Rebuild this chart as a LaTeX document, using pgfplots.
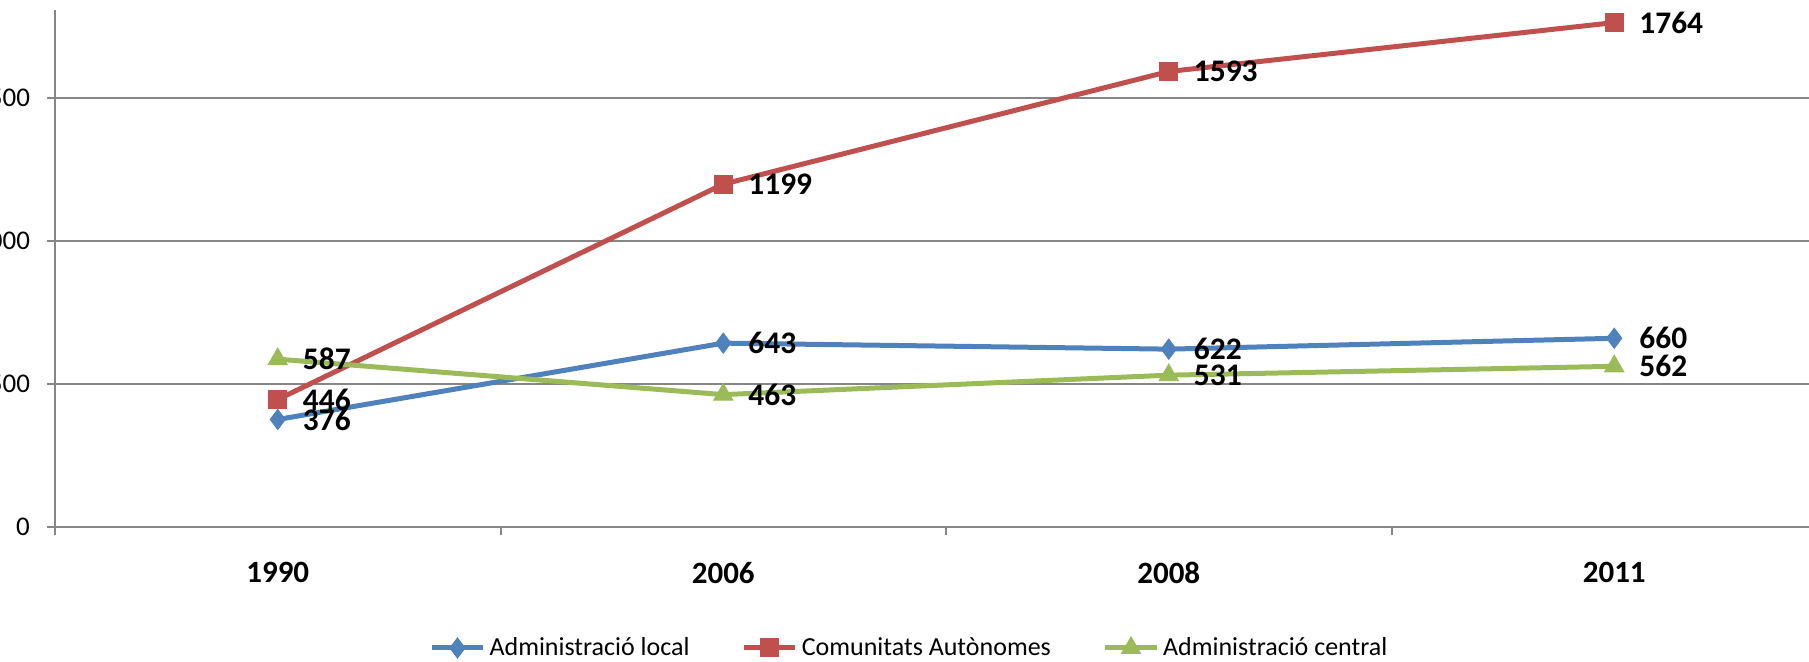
\documentclass[border=0pt]{standalone}
\usepackage{fontspec}
\setmainfont{Carlito}
\usepackage{pgfplots}
\pgfplotsset{compat=1.18}

\definecolor{serblue}{HTML}{4F81BD}
\definecolor{serred}{HTML}{C0504D}
\definecolor{sergreen}{HTML}{9BBB59}
\definecolor{axgray}{HTML}{868686}

\begin{document}
\begin{tikzpicture}
\begin{axis}[
  scale only axis,
  width=891pt, height=258.5pt,
  xmin=0, xmax=4, ymin=0, ymax=1808,
  axis lines*=left,
  axis line style={axgray, line width=1pt},
  every tick/.style={axgray, line width=1pt},
  tick align=outside,
  major tick length=4pt,
  ymajorgrids,
  grid style={axgray, line width=0.8pt},
  ytick={0,500,1000,1500},
  yticklabel style={font=\fontsize{13.5}{15}\selectfont, xshift=-5pt},
  xtick={0,1,2,3,4},
  xticklabels={},
  extra x ticks={0.5,1.5,2.5,3.5},
  extra x tick labels={1990,2006,2008,2011},
  extra x tick style={major tick length=0pt, grid=none,
    ticklabel style={font=\bfseries\fontsize{15.5}{17}\selectfont, yshift=-14pt}},
  /pgf/number format/1000 sep={},
  /pgf/number format/assume math mode=true,
  clip=false,
  nodes near coords,
  every node near coord/.style={anchor=west, xshift=9pt, text=black,
    font=\bfseries\fontsize{15.7}{17}\selectfont},
  legend columns=3,
  legend style={draw=none, at={(rel axis cs:0.48,-0.234)}, anchor=center,
    font=\fontsize{13}{15}\selectfont,
    /tikz/every even column/.append style={column sep=24pt}},
  legend image code/.code={\draw[mark repeat=2, mark phase=2, #1]
    plot coordinates {(0cm,0cm) (0.45cm,0cm) (0.9cm,0cm)};},
]
\addplot[serblue, line width=2.5pt, mark=diamond*, mark size=5pt,
  mark options={solid, fill=serblue, line width=0.5pt}]
  coordinates {(0.5,376) (1.5,643) (2.5,622) (3.5,660)};
\addlegendentry{Administració local}
\addplot[serred, line width=2.5pt, mark=square*, mark size=4.5pt,
  mark options={solid, fill=serred, line width=0.5pt}]
  coordinates {(0.5,446) (1.5,1199) (2.5,1593) (3.5,1764)};
\addlegendentry{Comunitats Autònomes}
\addplot[sergreen, line width=2.5pt, mark=triangle*, mark size=5.5pt,
  mark options={solid, fill=sergreen, line width=0.5pt}]
  coordinates {(0.5,587) (1.5,463) (2.5,531) (3.5,562)};
\addlegendentry{Administració central}
\end{axis}
\pgfresetboundingbox
\path (-27.5pt,-67pt) rectangle (877pt,263.5pt);
\end{tikzpicture}
\end{document}
